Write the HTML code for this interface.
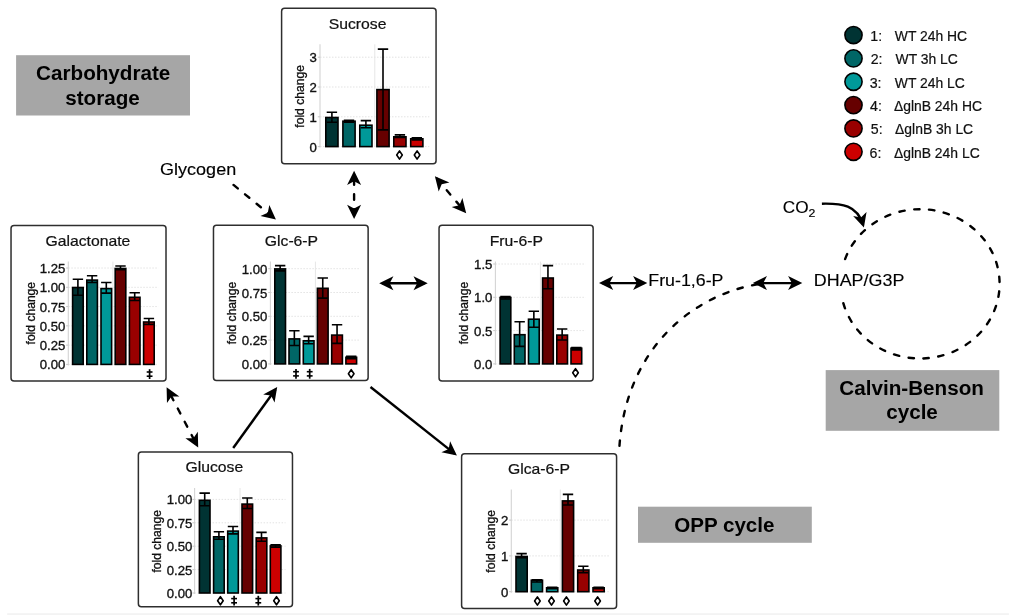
<!DOCTYPE html><html><head><meta charset="utf-8"><style>html,body{margin:0;padding:0;background:#fff;overflow:hidden}svg{display:block;will-change:transform;filter:blur(0.3px)}text{font-family:"Liberation Sans", sans-serif}</style></head><body>
<svg width="1024" height="615" viewBox="0 0 1024 615">
<defs><marker id="ah" viewBox="-12 -8 16 16" refX="0" refY="0" markerWidth="16" markerHeight="16" markerUnits="userSpaceOnUse" orient="auto-start-reverse"><path d="M3 0 L-11.2 -7 L-7.5 0 L-11.2 7 Z" fill="#000"/></marker></defs>
<rect width="1024" height="615" fill="#fff"/>
<rect x="7.2" y="613.2" width="1001.7" height="1.8" fill="#f3f3f3"/>
<rect x="16.1" y="55.2" width="173.9" height="60.3" fill="#a6a6a6"/>
<text transform="translate(36.07 79.7) scale(1.060 1)" font-size="19.5" font-weight="bold" fill="#000">Carbohydrate</text>
<text transform="translate(65.17 104.9) scale(1.060 1)" font-size="19.5" font-weight="bold" fill="#000">storage</text>
<rect x="825.7" y="370.1" width="173.6" height="60.7" fill="#a6a6a6"/>
<text transform="translate(839.27 395.2) scale(1.060 1)" font-size="19.5" font-weight="bold" fill="#000">Calvin-Benson</text>
<text transform="translate(886.17 419) scale(1.060 1)" font-size="19.5" font-weight="bold" fill="#000">cycle</text>
<rect x="638" y="506.7" width="173.8" height="36.1" fill="#a6a6a6"/>
<text transform="translate(674.18 531.7) scale(1.050 1)" font-size="19.6" font-weight="bold" fill="#000">OPP cycle</text>
<path d="M757.5 284.3 C694.46 294.9 625.34 346.78 619.3 448.5" fill="none" stroke="#000" stroke-width="2.4" stroke-dasharray="5.4 9.55" stroke-dashoffset="14.74" stroke-linecap="round"/>
<path d="M840.6 283.85 A79.5 74.65 0 0 1 999.6 283.85 A79.5 74.65 0 0 1 840.6 283.85" fill="none" stroke="#000" stroke-width="2.4" stroke-dasharray="5.4 9.54" stroke-dashoffset="4.58" stroke-linecap="round"/>
<rect x="808" y="261" width="42" height="40.5" fill="#fff"/>
<text transform="translate(813.82 286.3) scale(1.047 1)" font-size="17.1" fill="#000" stroke="#000" stroke-width="0.15">DHAP/G3P</text>
<text transform="translate(648.27 286.2) scale(1.048 1)" font-size="17" fill="#000" stroke="#000" stroke-width="0.15">Fru-1,6-P</text>
<text transform="translate(160.1 174.5) scale(1.060 1)" font-size="17" fill="#000" stroke="#000" stroke-width="0.15">Glycogen</text>
<text transform="translate(782.74 213.1) scale(1.000 1)" font-size="17.2" fill="#000" stroke="#000" stroke-width="0.15">CO</text>
<text transform="translate(808.58 216.6) scale(1.100 1)" font-size="11.2" fill="#000" stroke="#000" stroke-width="0.15">2</text>
<path d="M821.9 203.7 C842 203.2 857.2 205.1 863.04 224.73" fill="none" stroke="#000" stroke-width="2.4" marker-end="url(#ah)"/>
<path d="M233.5 184.9 L273.58 217.6" stroke="#000" stroke-width="2.4" fill="none" stroke-dasharray="5.5 9.4" stroke-dashoffset="0" stroke-linecap="round" marker-end="url(#ah)"/>
<path d="M354.1 173.8 L354.1 216" stroke="#000" stroke-width="2.4" fill="none" stroke-dasharray="5.5 9.4" stroke-dashoffset="9.4" stroke-linecap="round" marker-end="url(#ah)" marker-start="url(#ah)"/>
<path d="M436.83 178.49 L464.27 211.01" stroke="#000" stroke-width="2.4" fill="none" stroke-dasharray="5.5 9.4" stroke-dashoffset="14.4" stroke-linecap="round" marker-end="url(#ah)" marker-start="url(#ah)"/>
<path d="M382.2 283.3 L424.7 283.3" stroke="#000" stroke-width="2.4" fill="none" marker-end="url(#ah)" marker-start="url(#ah)"/>
<path d="M602 283.1 L644.3 283.1" stroke="#000" stroke-width="2.4" fill="none" marker-end="url(#ah)" marker-start="url(#ah)"/>
<path d="M755.8 283.1 L799.3 283.1" stroke="#000" stroke-width="2.4" fill="none" marker-end="url(#ah)" marker-start="url(#ah)"/>
<path d="M167.99 389.86 L196.81 444.94" stroke="#000" stroke-width="2.4" fill="none" stroke-dasharray="5.5 9.4" stroke-dashoffset="8.7" stroke-linecap="round" marker-end="url(#ah)" marker-start="url(#ah)"/>
<path d="M233.2 448 L275.44 389.43" stroke="#000" stroke-width="2.4" fill="none" marker-end="url(#ah)"/>
<path d="M370.5 387 L454.55 453.64" stroke="#000" stroke-width="2.4" fill="none" marker-end="url(#ah)"/>
<rect x="281.6" y="8.26" width="154.46" height="155.41" rx="3" ry="3" fill="#fff" stroke="#2e2e2e" stroke-width="1.5"/>
<text transform="translate(328.71 29.1) scale(1.012 1)" font-size="15.55" fill="#111" stroke="#111" stroke-width="0.22">Sucrose</text>
<line x1="320" y1="146.6" x2="429.3" y2="146.6" stroke="#e3e3e3" stroke-width="1" stroke-dasharray="1.5 1.5"/>
<line x1="320" y1="116.8" x2="429.3" y2="116.8" stroke="#e3e3e3" stroke-width="1" stroke-dasharray="1.5 1.5"/>
<line x1="320" y1="87" x2="429.3" y2="87" stroke="#e3e3e3" stroke-width="1" stroke-dasharray="1.5 1.5"/>
<line x1="320" y1="57.2" x2="429.3" y2="57.2" stroke="#e3e3e3" stroke-width="1" stroke-dasharray="1.5 1.5"/>
<line x1="374.8" y1="44.3" x2="374.8" y2="146.6" stroke="#e6e6e6" stroke-width="1"/>
<line x1="320" y1="44.3" x2="320" y2="147.6" stroke="#d4d4d4" stroke-width="1.1"/>
<line x1="317.8" y1="146.6" x2="320" y2="146.6" stroke="#c8c8c8" stroke-width="1"/>
<line x1="317.8" y1="116.8" x2="320" y2="116.8" stroke="#c8c8c8" stroke-width="1"/>
<line x1="317.8" y1="87" x2="320" y2="87" stroke="#c8c8c8" stroke-width="1"/>
<line x1="317.8" y1="57.2" x2="320" y2="57.2" stroke="#c8c8c8" stroke-width="1"/>
<text transform="translate(316.8 151.6) scale(1.08 1)" font-size="12.2" text-anchor="end" fill="#111" stroke="#111" stroke-width="0.32">0</text>
<text transform="translate(316.8 121.8) scale(1.08 1)" font-size="12.2" text-anchor="end" fill="#111" stroke="#111" stroke-width="0.32">1</text>
<text transform="translate(316.8 92) scale(1.08 1)" font-size="12.2" text-anchor="end" fill="#111" stroke="#111" stroke-width="0.32">2</text>
<text transform="translate(316.8 62.2) scale(1.08 1)" font-size="12.2" text-anchor="end" fill="#111" stroke="#111" stroke-width="0.32">3</text>
<text transform="translate(303.6 96.4) rotate(-90)" font-size="12.1" text-anchor="middle" fill="#111" stroke="#111" stroke-width="0.32">fold change</text>
<rect x="325.8" y="117.5" width="12.2" height="29.1" fill="#003333" stroke="#000" stroke-width="1.6"/>
<rect x="342.9" y="121.2" width="12.2" height="25.4" fill="#006666" stroke="#000" stroke-width="1.6"/>
<rect x="359.8" y="125.2" width="12.2" height="21.4" fill="#009999" stroke="#000" stroke-width="1.6"/>
<rect x="376.9" y="89.6" width="12.2" height="57" fill="#660000" stroke="#000" stroke-width="1.6"/>
<rect x="393.8" y="136.8" width="12.2" height="9.8" fill="#990000" stroke="#000" stroke-width="1.6"/>
<rect x="410.7" y="138.8" width="12.2" height="7.8" fill="#cc0000" stroke="#000" stroke-width="1.6"/>
<path d="M326.7 112.3 H337.1 M326.7 122.2 H337.1 M331.9 112.3 V122.2" stroke="#000" stroke-width="1.6" fill="none"/>
<path d="M343.8 120.3 H354.2 M343.8 122.3 H354.2 M349 120.3 V122.3" stroke="#000" stroke-width="1.6" fill="none"/>
<path d="M360.7 120.6 H371.1 M360.7 127.7 H371.1 M365.9 120.6 V127.7" stroke="#000" stroke-width="1.6" fill="none"/>
<path d="M377.8 49.1 H388.2 M377.8 129.9 H388.2 M383 49.1 V129.9" stroke="#000" stroke-width="1.6" fill="none"/>
<path d="M394.7 134.9 H405.1 M394.7 137.5 H405.1 M399.9 134.9 V137.5" stroke="#000" stroke-width="1.6" fill="none"/>
<path d="M411.6 137.8 H422 M411.6 139.9 H422 M416.8 137.8 V139.9" stroke="#000" stroke-width="1.6" fill="none"/>
<path d="M399.5 150.9 L402.3 155 L399.5 159.1 L396.7 155 Z" fill="none" stroke="#000" stroke-width="1.6" stroke-linejoin="round"/>
<path d="M417.1 150.9 L419.9 155 L417.1 159.1 L414.3 155 Z" fill="none" stroke="#000" stroke-width="1.6" stroke-linejoin="round"/>
<rect x="11.03" y="225.48" width="154.98" height="155.51" rx="3" ry="3" fill="#fff" stroke="#2e2e2e" stroke-width="1.5"/>
<text transform="translate(45.51 246.1) scale(1.012 1)" font-size="15.55" fill="#111" stroke="#111" stroke-width="0.22">Galactonate</text>
<line x1="68.3" y1="364.4" x2="158.4" y2="364.4" stroke="#e3e3e3" stroke-width="1" stroke-dasharray="1.5 1.5"/>
<line x1="68.3" y1="345.12" x2="158.4" y2="345.12" stroke="#e3e3e3" stroke-width="1" stroke-dasharray="1.5 1.5"/>
<line x1="68.3" y1="325.85" x2="158.4" y2="325.85" stroke="#e3e3e3" stroke-width="1" stroke-dasharray="1.5 1.5"/>
<line x1="68.3" y1="306.57" x2="158.4" y2="306.57" stroke="#e3e3e3" stroke-width="1" stroke-dasharray="1.5 1.5"/>
<line x1="68.3" y1="287.3" x2="158.4" y2="287.3" stroke="#e3e3e3" stroke-width="1" stroke-dasharray="1.5 1.5"/>
<line x1="68.3" y1="268.02" x2="158.4" y2="268.02" stroke="#e3e3e3" stroke-width="1" stroke-dasharray="1.5 1.5"/>
<line x1="112.9" y1="261.6" x2="112.9" y2="364.4" stroke="#e6e6e6" stroke-width="1"/>
<line x1="68.3" y1="261.6" x2="68.3" y2="365.4" stroke="#d4d4d4" stroke-width="1.1"/>
<line x1="66.1" y1="364.4" x2="68.3" y2="364.4" stroke="#c8c8c8" stroke-width="1"/>
<line x1="66.1" y1="345.12" x2="68.3" y2="345.12" stroke="#c8c8c8" stroke-width="1"/>
<line x1="66.1" y1="325.85" x2="68.3" y2="325.85" stroke="#c8c8c8" stroke-width="1"/>
<line x1="66.1" y1="306.57" x2="68.3" y2="306.57" stroke="#c8c8c8" stroke-width="1"/>
<line x1="66.1" y1="287.3" x2="68.3" y2="287.3" stroke="#c8c8c8" stroke-width="1"/>
<line x1="66.1" y1="268.02" x2="68.3" y2="268.02" stroke="#c8c8c8" stroke-width="1"/>
<text transform="translate(65.4 369.4) scale(1.08 1)" font-size="12.2" text-anchor="end" fill="#111" stroke="#111" stroke-width="0.32">0.00</text>
<text transform="translate(65.4 350.12) scale(1.08 1)" font-size="12.2" text-anchor="end" fill="#111" stroke="#111" stroke-width="0.32">0.25</text>
<text transform="translate(65.4 330.85) scale(1.08 1)" font-size="12.2" text-anchor="end" fill="#111" stroke="#111" stroke-width="0.32">0.50</text>
<text transform="translate(65.4 311.57) scale(1.08 1)" font-size="12.2" text-anchor="end" fill="#111" stroke="#111" stroke-width="0.32">0.75</text>
<text transform="translate(65.4 292.3) scale(1.08 1)" font-size="12.2" text-anchor="end" fill="#111" stroke="#111" stroke-width="0.32">1.00</text>
<text transform="translate(65.4 273.02) scale(1.08 1)" font-size="12.2" text-anchor="end" fill="#111" stroke="#111" stroke-width="0.32">1.25</text>
<text transform="translate(34.8 313.2) rotate(-90)" font-size="12.1" text-anchor="middle" fill="#111" stroke="#111" stroke-width="0.32">fold change</text>
<rect x="72.6" y="287.5" width="10.6" height="76.9" fill="#003333" stroke="#000" stroke-width="1.6"/>
<rect x="86.8" y="280.1" width="10.6" height="84.3" fill="#006666" stroke="#000" stroke-width="1.6"/>
<rect x="101" y="288.6" width="10.6" height="75.8" fill="#009999" stroke="#000" stroke-width="1.6"/>
<rect x="115.2" y="268.5" width="10.6" height="95.9" fill="#660000" stroke="#000" stroke-width="1.6"/>
<rect x="129.4" y="297.3" width="10.6" height="67.1" fill="#990000" stroke="#000" stroke-width="1.6"/>
<rect x="143.6" y="322" width="10.6" height="42.4" fill="#cc0000" stroke="#000" stroke-width="1.6"/>
<path d="M72.7 279.3 H83.1 M72.7 295.2 H83.1 M77.9 279.3 V295.2" stroke="#000" stroke-width="1.6" fill="none"/>
<path d="M86.9 275.7 H97.3 M86.9 282.5 H97.3 M92.1 275.7 V282.5" stroke="#000" stroke-width="1.6" fill="none"/>
<path d="M101.1 282.5 H111.5 M101.1 293.1 H111.5 M106.3 282.5 V293.1" stroke="#000" stroke-width="1.6" fill="none"/>
<path d="M115.3 266 H125.7 M115.3 269.8 H125.7 M120.5 266 V269.8" stroke="#000" stroke-width="1.6" fill="none"/>
<path d="M129.5 292.7 H139.9 M129.5 300.5 H139.9 M134.7 292.7 V300.5" stroke="#000" stroke-width="1.6" fill="none"/>
<path d="M143.7 318.5 H154.1 M143.7 324.4 H154.1 M148.9 318.5 V324.4" stroke="#000" stroke-width="1.6" fill="none"/>
<g stroke="#000" fill="none"><line x1="149.6" y1="369.2" x2="149.6" y2="379" stroke-width="1.7"/><line x1="146.7" y1="372" x2="152.5" y2="372" stroke-width="1.6"/><line x1="146.7" y1="376.2" x2="152.5" y2="376.2" stroke-width="1.6"/></g>
<rect x="213.48" y="225.37" width="154.65" height="155.16" rx="3" ry="3" fill="#fff" stroke="#2e2e2e" stroke-width="1.5"/>
<text transform="translate(264.81 245.6) scale(1.012 1)" font-size="15.55" fill="#111" stroke="#111" stroke-width="0.22">Glc-6-P</text>
<line x1="270.4" y1="363.9" x2="360.5" y2="363.9" stroke="#e3e3e3" stroke-width="1" stroke-dasharray="1.5 1.5"/>
<line x1="270.4" y1="340.1" x2="360.5" y2="340.1" stroke="#e3e3e3" stroke-width="1" stroke-dasharray="1.5 1.5"/>
<line x1="270.4" y1="316.3" x2="360.5" y2="316.3" stroke="#e3e3e3" stroke-width="1" stroke-dasharray="1.5 1.5"/>
<line x1="270.4" y1="292.5" x2="360.5" y2="292.5" stroke="#e3e3e3" stroke-width="1" stroke-dasharray="1.5 1.5"/>
<line x1="270.4" y1="268.7" x2="360.5" y2="268.7" stroke="#e3e3e3" stroke-width="1" stroke-dasharray="1.5 1.5"/>
<line x1="315.4" y1="261.6" x2="315.4" y2="363.9" stroke="#e6e6e6" stroke-width="1"/>
<line x1="270.4" y1="261.6" x2="270.4" y2="364.9" stroke="#d4d4d4" stroke-width="1.1"/>
<line x1="268.2" y1="363.9" x2="270.4" y2="363.9" stroke="#c8c8c8" stroke-width="1"/>
<line x1="268.2" y1="340.1" x2="270.4" y2="340.1" stroke="#c8c8c8" stroke-width="1"/>
<line x1="268.2" y1="316.3" x2="270.4" y2="316.3" stroke="#c8c8c8" stroke-width="1"/>
<line x1="268.2" y1="292.5" x2="270.4" y2="292.5" stroke="#c8c8c8" stroke-width="1"/>
<line x1="268.2" y1="268.7" x2="270.4" y2="268.7" stroke="#c8c8c8" stroke-width="1"/>
<text transform="translate(267.3 368.9) scale(1.08 1)" font-size="12.2" text-anchor="end" fill="#111" stroke="#111" stroke-width="0.32">0.00</text>
<text transform="translate(267.3 345.1) scale(1.08 1)" font-size="12.2" text-anchor="end" fill="#111" stroke="#111" stroke-width="0.32">0.25</text>
<text transform="translate(267.3 321.3) scale(1.08 1)" font-size="12.2" text-anchor="end" fill="#111" stroke="#111" stroke-width="0.32">0.50</text>
<text transform="translate(267.3 297.5) scale(1.08 1)" font-size="12.2" text-anchor="end" fill="#111" stroke="#111" stroke-width="0.32">0.75</text>
<text transform="translate(267.3 273.7) scale(1.08 1)" font-size="12.2" text-anchor="end" fill="#111" stroke="#111" stroke-width="0.32">1.00</text>
<text transform="translate(235.6 313) rotate(-90)" font-size="12.1" text-anchor="middle" fill="#111" stroke="#111" stroke-width="0.32">fold change</text>
<rect x="274.8" y="268.9" width="10.7" height="95" fill="#003333" stroke="#000" stroke-width="1.6"/>
<rect x="289" y="338.9" width="10.7" height="25" fill="#006666" stroke="#000" stroke-width="1.6"/>
<rect x="303.3" y="340.8" width="10.7" height="23.1" fill="#009999" stroke="#000" stroke-width="1.6"/>
<rect x="317.4" y="288.3" width="10.7" height="75.6" fill="#660000" stroke="#000" stroke-width="1.6"/>
<rect x="331.7" y="335.1" width="10.7" height="28.8" fill="#990000" stroke="#000" stroke-width="1.6"/>
<rect x="345.9" y="357.3" width="10.7" height="6.6" fill="#cc0000" stroke="#000" stroke-width="1.6"/>
<path d="M274.95 265.6 H285.35 M274.95 270.9 H285.35 M280.15 265.6 V270.9" stroke="#000" stroke-width="1.6" fill="none"/>
<path d="M289.15 330.7 H299.55 M289.15 345.5 H299.55 M294.35 330.7 V345.5" stroke="#000" stroke-width="1.6" fill="none"/>
<path d="M303.45 336.4 H313.85 M303.45 343.8 H313.85 M308.65 336.4 V343.8" stroke="#000" stroke-width="1.6" fill="none"/>
<path d="M317.55 278 H327.95 M317.55 298.1 H327.95 M322.75 278 V298.1" stroke="#000" stroke-width="1.6" fill="none"/>
<path d="M331.85 324.8 H342.25 M331.85 343.4 H342.25 M337.05 324.8 V343.4" stroke="#000" stroke-width="1.6" fill="none"/>
<path d="M346.05 356.4 H356.45 M346.05 358.6 H356.45 M351.25 356.4 V358.6" stroke="#000" stroke-width="1.6" fill="none"/>
<g stroke="#000" fill="none"><line x1="296" y1="368.9" x2="296" y2="378.7" stroke-width="1.7"/><line x1="293.1" y1="371.7" x2="298.9" y2="371.7" stroke-width="1.6"/><line x1="293.1" y1="375.9" x2="298.9" y2="375.9" stroke-width="1.6"/></g>
<g stroke="#000" fill="none"><line x1="309.7" y1="368.9" x2="309.7" y2="378.7" stroke-width="1.7"/><line x1="306.8" y1="371.7" x2="312.6" y2="371.7" stroke-width="1.6"/><line x1="306.8" y1="375.9" x2="312.6" y2="375.9" stroke-width="1.6"/></g>
<path d="M351.2 369.7 L354 373.8 L351.2 377.9 L348.4 373.8 Z" fill="none" stroke="#000" stroke-width="1.6" stroke-linejoin="round"/>
<rect x="439.05" y="225.37" width="154.1" height="155.62" rx="3" ry="3" fill="#fff" stroke="#2e2e2e" stroke-width="1.5"/>
<text transform="translate(489.64 245.8) scale(1.012 1)" font-size="15.55" fill="#111" stroke="#111" stroke-width="0.22">Fru-6-P</text>
<line x1="495.4" y1="363.9" x2="585.5" y2="363.9" stroke="#e3e3e3" stroke-width="1" stroke-dasharray="1.5 1.5"/>
<line x1="495.4" y1="330.6" x2="585.5" y2="330.6" stroke="#e3e3e3" stroke-width="1" stroke-dasharray="1.5 1.5"/>
<line x1="495.4" y1="297.3" x2="585.5" y2="297.3" stroke="#e3e3e3" stroke-width="1" stroke-dasharray="1.5 1.5"/>
<line x1="495.4" y1="264" x2="585.5" y2="264" stroke="#e3e3e3" stroke-width="1" stroke-dasharray="1.5 1.5"/>
<line x1="540.4" y1="261.6" x2="540.4" y2="363.9" stroke="#e6e6e6" stroke-width="1"/>
<line x1="495.4" y1="261.6" x2="495.4" y2="364.9" stroke="#d4d4d4" stroke-width="1.1"/>
<line x1="493.2" y1="363.9" x2="495.4" y2="363.9" stroke="#c8c8c8" stroke-width="1"/>
<line x1="493.2" y1="330.6" x2="495.4" y2="330.6" stroke="#c8c8c8" stroke-width="1"/>
<line x1="493.2" y1="297.3" x2="495.4" y2="297.3" stroke="#c8c8c8" stroke-width="1"/>
<line x1="493.2" y1="264" x2="495.4" y2="264" stroke="#c8c8c8" stroke-width="1"/>
<text transform="translate(492.4 368.9) scale(1.08 1)" font-size="12.2" text-anchor="end" fill="#111" stroke="#111" stroke-width="0.32">0.0</text>
<text transform="translate(492.4 335.6) scale(1.08 1)" font-size="12.2" text-anchor="end" fill="#111" stroke="#111" stroke-width="0.32">0.5</text>
<text transform="translate(492.4 302.3) scale(1.08 1)" font-size="12.2" text-anchor="end" fill="#111" stroke="#111" stroke-width="0.32">1.0</text>
<text transform="translate(492.4 269) scale(1.08 1)" font-size="12.2" text-anchor="end" fill="#111" stroke="#111" stroke-width="0.32">1.5</text>
<text transform="translate(468 313.1) rotate(-90)" font-size="12.1" text-anchor="middle" fill="#111" stroke="#111" stroke-width="0.32">fold change</text>
<rect x="500.1" y="297.5" width="10.7" height="66.4" fill="#003333" stroke="#000" stroke-width="1.6"/>
<rect x="514.3" y="334.7" width="10.7" height="29.2" fill="#006666" stroke="#000" stroke-width="1.6"/>
<rect x="528.5" y="319.2" width="10.7" height="44.7" fill="#009999" stroke="#000" stroke-width="1.6"/>
<rect x="542.6" y="278" width="10.7" height="85.9" fill="#660000" stroke="#000" stroke-width="1.6"/>
<rect x="556.8" y="335.1" width="10.7" height="28.8" fill="#990000" stroke="#000" stroke-width="1.6"/>
<rect x="571" y="348.2" width="10.7" height="15.7" fill="#cc0000" stroke="#000" stroke-width="1.6"/>
<path d="M500.25 296.6 H510.65 M500.25 299 H510.65 M505.45 296.6 V299" stroke="#000" stroke-width="1.6" fill="none"/>
<path d="M514.45 321.8 H524.85 M514.45 346.4 H524.85 M519.65 321.8 V346.4" stroke="#000" stroke-width="1.6" fill="none"/>
<path d="M528.65 311.2 H539.05 M528.65 327.3 H539.05 M533.85 311.2 V327.3" stroke="#000" stroke-width="1.6" fill="none"/>
<path d="M542.75 265.6 H553.15 M542.75 288.8 H553.15 M547.95 265.6 V288.8" stroke="#000" stroke-width="1.6" fill="none"/>
<path d="M556.95 329 H567.35 M556.95 340 H567.35 M562.15 329 V340" stroke="#000" stroke-width="1.6" fill="none"/>
<path d="M571.15 347.6 H581.55 M571.15 349.9 H581.55 M576.35 347.6 V349.9" stroke="#000" stroke-width="1.6" fill="none"/>
<path d="M575.5 368.7 L578.3 372.8 L575.5 376.9 L572.7 372.8 Z" fill="none" stroke="#000" stroke-width="1.6" stroke-linejoin="round"/>
<rect x="138.37" y="451.94" width="154.1" height="154.93" rx="3" ry="3" fill="#fff" stroke="#2e2e2e" stroke-width="1.5"/>
<text transform="translate(185.46 472.3) scale(1.012 1)" font-size="15.55" fill="#111" stroke="#111" stroke-width="0.22">Glucose</text>
<line x1="194.6" y1="593" x2="285.5" y2="593" stroke="#e3e3e3" stroke-width="1" stroke-dasharray="1.5 1.5"/>
<line x1="194.6" y1="569.6" x2="285.5" y2="569.6" stroke="#e3e3e3" stroke-width="1" stroke-dasharray="1.5 1.5"/>
<line x1="194.6" y1="546.2" x2="285.5" y2="546.2" stroke="#e3e3e3" stroke-width="1" stroke-dasharray="1.5 1.5"/>
<line x1="194.6" y1="522.8" x2="285.5" y2="522.8" stroke="#e3e3e3" stroke-width="1" stroke-dasharray="1.5 1.5"/>
<line x1="194.6" y1="499.4" x2="285.5" y2="499.4" stroke="#e3e3e3" stroke-width="1" stroke-dasharray="1.5 1.5"/>
<line x1="240" y1="488" x2="240" y2="593" stroke="#e6e6e6" stroke-width="1"/>
<line x1="194.6" y1="488" x2="194.6" y2="594" stroke="#d4d4d4" stroke-width="1.1"/>
<line x1="192.4" y1="593" x2="194.6" y2="593" stroke="#c8c8c8" stroke-width="1"/>
<line x1="192.4" y1="569.6" x2="194.6" y2="569.6" stroke="#c8c8c8" stroke-width="1"/>
<line x1="192.4" y1="546.2" x2="194.6" y2="546.2" stroke="#c8c8c8" stroke-width="1"/>
<line x1="192.4" y1="522.8" x2="194.6" y2="522.8" stroke="#c8c8c8" stroke-width="1"/>
<line x1="192.4" y1="499.4" x2="194.6" y2="499.4" stroke="#c8c8c8" stroke-width="1"/>
<text transform="translate(192.4 598) scale(1.08 1)" font-size="12.2" text-anchor="end" fill="#111" stroke="#111" stroke-width="0.32">0.00</text>
<text transform="translate(192.4 574.6) scale(1.08 1)" font-size="12.2" text-anchor="end" fill="#111" stroke="#111" stroke-width="0.32">0.25</text>
<text transform="translate(192.4 551.2) scale(1.08 1)" font-size="12.2" text-anchor="end" fill="#111" stroke="#111" stroke-width="0.32">0.50</text>
<text transform="translate(192.4 527.8) scale(1.08 1)" font-size="12.2" text-anchor="end" fill="#111" stroke="#111" stroke-width="0.32">0.75</text>
<text transform="translate(192.4 504.4) scale(1.08 1)" font-size="12.2" text-anchor="end" fill="#111" stroke="#111" stroke-width="0.32">1.00</text>
<text transform="translate(160.6 541.3) rotate(-90)" font-size="12.1" text-anchor="middle" fill="#111" stroke="#111" stroke-width="0.32">fold change</text>
<rect x="199.4" y="500.3" width="10.6" height="92.7" fill="#003333" stroke="#000" stroke-width="1.6"/>
<rect x="213.6" y="536.8" width="10.6" height="56.2" fill="#006666" stroke="#000" stroke-width="1.6"/>
<rect x="227.7" y="531.1" width="10.6" height="61.9" fill="#009999" stroke="#000" stroke-width="1.6"/>
<rect x="242" y="504.1" width="10.6" height="88.9" fill="#660000" stroke="#000" stroke-width="1.6"/>
<rect x="256.2" y="537.9" width="10.6" height="55.1" fill="#990000" stroke="#000" stroke-width="1.6"/>
<rect x="270.3" y="545.9" width="10.6" height="47.1" fill="#cc0000" stroke="#000" stroke-width="1.6"/>
<path d="M199.5 493.1 H209.9 M199.5 505.8 H209.9 M204.7 493.1 V505.8" stroke="#000" stroke-width="1.6" fill="none"/>
<path d="M213.7 531.8 H224.1 M213.7 539.2 H224.1 M218.9 531.8 V539.2" stroke="#000" stroke-width="1.6" fill="none"/>
<path d="M227.8 526.5 H238.2 M227.8 533.9 H238.2 M233 526.5 V533.9" stroke="#000" stroke-width="1.6" fill="none"/>
<path d="M242.1 498 H252.5 M242.1 508.5 H252.5 M247.3 498 V508.5" stroke="#000" stroke-width="1.6" fill="none"/>
<path d="M256.3 532.4 H266.7 M256.3 541.3 H266.7 M261.5 532.4 V541.3" stroke="#000" stroke-width="1.6" fill="none"/>
<path d="M270.4 544.9 H280.8 M270.4 547.3 H280.8 M275.6 544.9 V547.3" stroke="#000" stroke-width="1.6" fill="none"/>
<path d="M220.4 596.6 L223.2 600.7 L220.4 604.8 L217.6 600.7 Z" fill="none" stroke="#000" stroke-width="1.6" stroke-linejoin="round"/>
<g stroke="#000" fill="none"><line x1="234.1" y1="595.8" x2="234.1" y2="605.6" stroke-width="1.7"/><line x1="231.2" y1="598.6" x2="237" y2="598.6" stroke-width="1.6"/><line x1="231.2" y1="602.8" x2="237" y2="602.8" stroke-width="1.6"/></g>
<g stroke="#000" fill="none"><line x1="258.3" y1="595.8" x2="258.3" y2="605.6" stroke-width="1.7"/><line x1="255.4" y1="598.6" x2="261.2" y2="598.6" stroke-width="1.6"/><line x1="255.4" y1="602.8" x2="261.2" y2="602.8" stroke-width="1.6"/></g>
<path d="M276.5 596.6 L279.3 600.7 L276.5 604.8 L273.7 600.7 Z" fill="none" stroke="#000" stroke-width="1.6" stroke-linejoin="round"/>
<rect x="461.6" y="453.85" width="154.98" height="154.57" rx="3" ry="3" fill="#fff" stroke="#2e2e2e" stroke-width="1.5"/>
<text transform="translate(507.96 474.1) scale(1.012 1)" font-size="15.55" fill="#111" stroke="#111" stroke-width="0.22">Glca-6-P</text>
<line x1="511.3" y1="591.7" x2="609.5" y2="591.7" stroke="#e3e3e3" stroke-width="1" stroke-dasharray="1.5 1.5"/>
<line x1="511.3" y1="555.9" x2="609.5" y2="555.9" stroke="#e3e3e3" stroke-width="1" stroke-dasharray="1.5 1.5"/>
<line x1="511.3" y1="520.1" x2="609.5" y2="520.1" stroke="#e3e3e3" stroke-width="1" stroke-dasharray="1.5 1.5"/>
<line x1="560.3" y1="489.5" x2="560.3" y2="591.7" stroke="#e6e6e6" stroke-width="1"/>
<line x1="511.3" y1="489.5" x2="511.3" y2="592.7" stroke="#d4d4d4" stroke-width="1.1"/>
<line x1="509.1" y1="591.7" x2="511.3" y2="591.7" stroke="#c8c8c8" stroke-width="1"/>
<line x1="509.1" y1="555.9" x2="511.3" y2="555.9" stroke="#c8c8c8" stroke-width="1"/>
<line x1="509.1" y1="520.1" x2="511.3" y2="520.1" stroke="#c8c8c8" stroke-width="1"/>
<text transform="translate(508.3 596.7) scale(1.08 1)" font-size="12.2" text-anchor="end" fill="#111" stroke="#111" stroke-width="0.32">0</text>
<text transform="translate(508.3 560.9) scale(1.08 1)" font-size="12.2" text-anchor="end" fill="#111" stroke="#111" stroke-width="0.32">1</text>
<text transform="translate(508.3 525.1) scale(1.08 1)" font-size="12.2" text-anchor="end" fill="#111" stroke="#111" stroke-width="0.32">2</text>
<text transform="translate(495.2 541.4) rotate(-90)" font-size="12.1" text-anchor="middle" fill="#111" stroke="#111" stroke-width="0.32">fold change</text>
<rect x="516" y="556.5" width="11.2" height="35.2" fill="#003333" stroke="#000" stroke-width="1.6"/>
<rect x="531.3" y="580.2" width="11.2" height="11.5" fill="#006666" stroke="#000" stroke-width="1.6"/>
<rect x="546.6" y="587.8" width="11.2" height="3.9" fill="#009999" stroke="#000" stroke-width="1.6"/>
<rect x="562.4" y="500.9" width="11.2" height="90.8" fill="#660000" stroke="#000" stroke-width="1.6"/>
<rect x="577.7" y="570" width="11.2" height="21.7" fill="#990000" stroke="#000" stroke-width="1.6"/>
<rect x="593" y="587.8" width="11.2" height="3.9" fill="#cc0000" stroke="#000" stroke-width="1.6"/>
<path d="M516.4 553.6 H526.8 M516.4 557.8 H526.8 M521.6 553.6 V557.8" stroke="#000" stroke-width="1.6" fill="none"/>
<path d="M531.7 579.8 H542.1 M531.7 582 H542.1 M536.9 579.8 V582" stroke="#000" stroke-width="1.6" fill="none"/>
<path d="M547 587.2 H557.4 M547 588.6 H557.4 M552.2 587.2 V588.6" stroke="#000" stroke-width="1.6" fill="none"/>
<path d="M562.8 494.4 H573.2 M562.8 505 H573.2 M568 494.4 V505" stroke="#000" stroke-width="1.6" fill="none"/>
<path d="M578.1 566.3 H588.5 M578.1 572.6 H588.5 M583.3 566.3 V572.6" stroke="#000" stroke-width="1.6" fill="none"/>
<path d="M593.4 587.2 H603.8 M593.4 588.8 H603.8 M598.6 587.2 V588.8" stroke="#000" stroke-width="1.6" fill="none"/>
<path d="M537.4 596.9 L540.2 601 L537.4 605.1 L534.6 601 Z" fill="none" stroke="#000" stroke-width="1.6" stroke-linejoin="round"/>
<path d="M551.5 596.9 L554.3 601 L551.5 605.1 L548.7 601 Z" fill="none" stroke="#000" stroke-width="1.6" stroke-linejoin="round"/>
<path d="M566.4 596.9 L569.2 601 L566.4 605.1 L563.6 601 Z" fill="none" stroke="#000" stroke-width="1.6" stroke-linejoin="round"/>
<path d="M597.6 596.9 L600.4 601 L597.6 605.1 L594.8 601 Z" fill="none" stroke="#000" stroke-width="1.6" stroke-linejoin="round"/>
<circle cx="853.5" cy="35.05" r="8.6" fill="#003333" stroke="#000" stroke-width="1.6"/>
<text transform="translate(870.26 41.2) scale(1.000 1)" font-size="14.2" fill="#111" stroke="#111" stroke-width="0.2">1:</text>
<text transform="translate(894.76 41.2) scale(0.980 1)" font-size="14.2" fill="#111" stroke="#111" stroke-width="0.2">WT 24h HC</text>
<circle cx="853.5" cy="58.4" r="8.6" fill="#006666" stroke="#000" stroke-width="1.6"/>
<text transform="translate(870.69 64.3) scale(1.000 1)" font-size="14.2" fill="#111" stroke="#111" stroke-width="0.2">2:</text>
<text transform="translate(895.56 64.3) scale(0.980 1)" font-size="14.2" fill="#111" stroke="#111" stroke-width="0.2">WT 3h LC</text>
<circle cx="853.5" cy="81.75" r="8.6" fill="#009999" stroke="#000" stroke-width="1.6"/>
<text transform="translate(869.73 88.2) scale(1.000 1)" font-size="14.2" fill="#111" stroke="#111" stroke-width="0.2">3:</text>
<text transform="translate(894.76 88.2) scale(0.980 1)" font-size="14.2" fill="#111" stroke="#111" stroke-width="0.2">WT 24h LC</text>
<circle cx="853.5" cy="105.1" r="8.6" fill="#660000" stroke="#000" stroke-width="1.6"/>
<text transform="translate(870.02 111.2) scale(1.000 1)" font-size="14.2" fill="#111" stroke="#111" stroke-width="0.2">4:</text>
<text transform="translate(893.88 111.2) scale(0.980 1)" font-size="14.2" fill="#111" stroke="#111" stroke-width="0.2">ΔglnB 24h HC</text>
<circle cx="853.5" cy="128.45" r="8.6" fill="#990000" stroke="#000" stroke-width="1.6"/>
<text transform="translate(870.83 134.3) scale(1.000 1)" font-size="14.2" fill="#111" stroke="#111" stroke-width="0.2">5:</text>
<text transform="translate(895.08 134.3) scale(0.980 1)" font-size="14.2" fill="#111" stroke="#111" stroke-width="0.2">ΔglnB 3h LC</text>
<circle cx="853.5" cy="151.8" r="8.6" fill="#cc0000" stroke="#000" stroke-width="1.6"/>
<text transform="translate(869.59 157.7) scale(1.000 1)" font-size="14.2" fill="#111" stroke="#111" stroke-width="0.2">6:</text>
<text transform="translate(893.88 157.7) scale(0.980 1)" font-size="14.2" fill="#111" stroke="#111" stroke-width="0.2">ΔglnB 24h LC</text>
</svg></body></html>
